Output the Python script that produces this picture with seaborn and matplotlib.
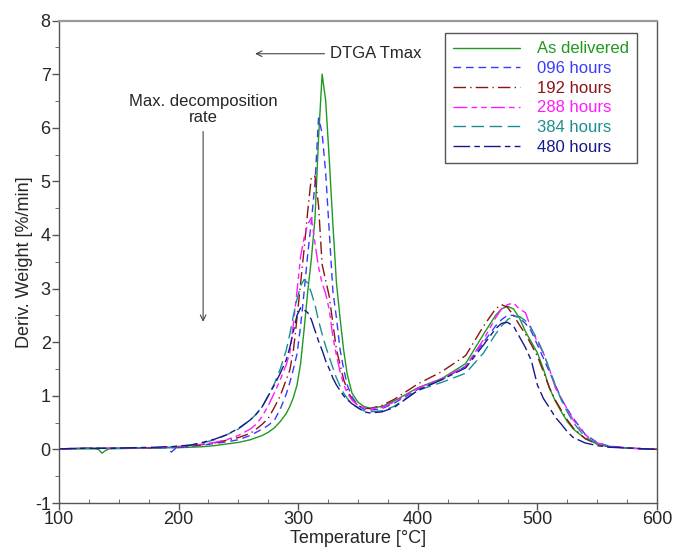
import matplotlib
matplotlib.use("Agg")
import matplotlib.pyplot as plt
from matplotlib.lines import Line2D
from matplotlib.ticker import MultipleLocator
import pandas as pd
import seaborn as sns

temps = [100, 120, 130, 133, 136, 139, 142, 160, 180, 190, 194, 198, 210, 220, 230, 240,
         250, 260, 265, 270, 275, 280, 285, 290,
         293, 296, 299, 302, 305, 308, 311, 314, 317, 320, 323, 326, 329, 332, 335, 338, 341,
         345, 350, 355, 360, 370, 380, 400, 420, 440, 455, 465, 470, 475, 480, 485, 490, 495,
         500, 505, 510, 515, 520, 525, 530, 540, 550, 560, 580, 600]

as_delivered = [0.01, 0.01, 0.01, 0.0, -0.07, -0.02, 0.01, 0.02, 0.02, 0.03, 0.03, 0.03, 0.04, 0.05, 0.07, 0.10,
                0.13, 0.18, 0.22, 0.26, 0.32, 0.40, 0.52, 0.67,
                0.80, 0.97, 1.20, 1.60, 2.25, 2.95, 3.55, 4.30, 5.80, 7.00, 6.50, 5.40, 4.20, 3.10, 2.45, 1.85, 1.40,
                1.05, 0.88, 0.80, 0.77, 0.80, 0.90, 1.15, 1.32, 1.60, 2.15, 2.50, 2.62, 2.67, 2.62, 2.45, 2.20, 2.00,
                1.80, 1.50, 1.15, 0.90, 0.70, 0.52, 0.38, 0.20, 0.10, 0.05, 0.02, 0.00]
h096 = [0.01, 0.02, 0.02, 0.02, 0.02, 0.02, 0.02, 0.02, 0.03, 0.03, -0.05, 0.03, 0.06, 0.08, 0.11, 0.14,
        0.18, 0.26, 0.32, 0.38, 0.45, 0.54, 0.75, 1.03,
        1.25, 1.50, 1.78, 2.30, 2.95, 3.65, 4.25, 4.95, 6.18, 5.90, 5.15, 4.05, 2.95, 2.45, 1.86, 1.50, 1.20,
        0.98, 0.82, 0.75, 0.73, 0.76, 0.86, 1.12, 1.30, 1.55, 2.00, 2.30, 2.42, 2.50, 2.50, 2.45, 2.35, 2.20,
        1.95, 1.70, 1.45, 1.20, 0.95, 0.75, 0.58, 0.28, 0.13, 0.06, 0.02, 0.00]
h192 = [0.01, 0.02, 0.02, 0.02, 0.02, 0.02, 0.02, 0.03, 0.03, 0.04, 0.04, 0.04, 0.06, 0.09, 0.12, 0.17,
        0.22, 0.30, 0.38, 0.47, 0.58, 0.78, 1.00, 1.30,
        1.48, 1.85, 2.45, 3.10, 3.75, 4.45, 5.08, 5.10, 4.55, 3.45, 3.15, 2.85, 2.35, 1.86, 1.58, 1.30, 1.12,
        0.93, 0.82, 0.77, 0.76, 0.82, 0.93, 1.22, 1.45, 1.75, 2.30, 2.62, 2.70, 2.65, 2.50, 2.32, 2.15, 1.95,
        1.74, 1.45, 1.15, 0.92, 0.73, 0.55, 0.40, 0.20, 0.10, 0.05, 0.02, 0.00]
h288 = [0.01, 0.02, 0.02, 0.02, 0.02, 0.02, 0.02, 0.03, 0.03, 0.04, 0.04, 0.05, 0.07, 0.10, 0.13, 0.18,
        0.26, 0.38, 0.47, 0.62, 0.82, 1.05, 1.30, 1.58,
        1.80, 2.35, 2.95, 3.60, 3.95, 4.20, 4.32, 3.85, 3.40, 3.10, 2.90, 2.60, 2.10, 1.75, 1.45, 1.22, 1.05,
        0.92, 0.82, 0.78, 0.76, 0.78, 0.88, 1.14, 1.32, 1.55, 2.05, 2.45, 2.62, 2.70, 2.73, 2.62, 2.55, 2.25,
        2.00, 1.80, 1.50, 1.15, 0.95, 0.75, 0.55, 0.27, 0.12, 0.06, 0.02, 0.00]
h384 = [0.01, 0.02, 0.02, 0.02, 0.02, 0.02, 0.02, 0.03, 0.03, 0.04, 0.04, 0.05, 0.08, 0.12, 0.18, 0.27,
        0.38, 0.55, 0.66, 0.80, 1.00, 1.22, 1.50, 1.85,
        2.15, 2.50, 2.80, 3.05, 3.17, 3.10, 2.92, 2.70, 2.40, 2.15, 1.92, 1.72, 1.52, 1.33, 1.18, 1.05, 0.95,
        0.85, 0.77, 0.72, 0.70, 0.72, 0.80, 1.10, 1.25, 1.42, 1.80, 2.15, 2.30, 2.42, 2.48, 2.48, 2.40, 2.25,
        2.05, 1.80, 1.50, 1.20, 0.92, 0.70, 0.50, 0.23, 0.11, 0.05, 0.02, 0.00]
h480 = [0.01, 0.02, 0.02, 0.02, 0.02, 0.02, 0.02, 0.03, 0.04, 0.05, 0.05, 0.06, 0.08, 0.13, 0.19, 0.27,
        0.39, 0.55, 0.66, 0.80, 1.00, 1.20, 1.42, 1.67,
        1.90, 2.20, 2.50, 2.64, 2.60, 2.55, 2.42, 2.22, 2.02, 1.85, 1.65, 1.50, 1.33, 1.20, 1.10, 1.00, 0.93,
        0.85, 0.78, 0.70, 0.68, 0.70, 0.78, 1.10, 1.30, 1.52, 1.95, 2.25, 2.35, 2.37, 2.30, 2.10, 1.90, 1.65,
        1.20, 0.95, 0.78, 0.60, 0.47, 0.33, 0.22, 0.12, 0.07, 0.04, 0.02, 0.00]

labels = ["As delivered", "096 hours", "192 hours", "288 hours", "384 hours", "480 hours"]
series = [as_delivered, h096, h192, h288, h384, h480]

COLORS = {
    "As delivered": "#1f9a1f",
    "096 hours": "#3a3aff",
    "192 hours": "#8b1414",
    "288 hours": "#ff1aff",
    "384 hours": "#1a8f8f",
    "480 hours": "#18188a",
}
DASHES = {
    "As delivered": "",
    "096 hours": (5.5, 3.5),
    "192 hours": (9, 3, 1, 3),
    "288 hours": (10, 3, 4, 3, 4, 3),
    "384 hours": (9, 4),
    "480 hours": (12, 3, 4, 3),
}

df = pd.DataFrame({
    "temp": temps * len(labels),
    "dw": [v for s in series for v in s],
    "sample": [lab for lab in labels for _ in temps],
})

sns.set_style("ticks")
plt.rcParams["font.family"] = ["Liberation Sans", "DejaVu Sans"]
plt.rcParams["axes.unicode_minus"] = False

fig = plt.figure(figsize=(6.75, 5.48), dpi=100)
ax = fig.add_axes([59 / 675, 1 - 503 / 548, 598 / 675, 482.5 / 548])

sns.lineplot(data=df, x="temp", y="dw", hue="sample", style="sample",
             hue_order=labels, style_order=labels, palette=COLORS, dashes=DASHES,
             sort=False, estimator=None, linewidth=1.0, legend=False, ax=ax)

ax.set_xlim(100, 600)
ax.set_ylim(-1, 8)
ax.xaxis.set_major_locator(MultipleLocator(100))
ax.xaxis.set_minor_locator(MultipleLocator(25))
ax.yaxis.set_major_locator(MultipleLocator(1))
ax.yaxis.set_minor_locator(MultipleLocator(0.5))
ax.tick_params(axis="both", which="major", labelsize=13, length=5, color="#555555", width=1, pad=1)
ax.tick_params(axis="x", which="minor", direction="in", length=3, color="#555555")
ax.tick_params(axis="y", which="minor", direction="out", length=3, color="#555555")
ax.set_xlabel("Temperature [°C]", fontsize=13, labelpad=1)
ax.set_ylabel("Deriv. Weight [%/min]", fontsize=13, labelpad=1)

for side in ["left", "bottom", "right"]:
    ax.spines[side].set_visible(True)
    ax.spines[side].set_color("#555555")
    ax.spines[side].set_linewidth(1.0)
ax.spines["top"].set_visible(True)
ax.spines["top"].set_color("#999999")
ax.spines["top"].set_linewidth(1.6)

# annotations
arrow = dict(arrowstyle="->", color="#444444", lw=0.8, shrinkA=0, shrinkB=0)
ax.annotate("", xy=(264, 7.38), xytext=(322, 7.38), arrowprops=arrow)
ax.text(327, 7.38, "DTGA Tmax", fontsize=12, va="center", ha="left")
ax.annotate("", xy=(220.5, 2.38), xytext=(220.5, 5.93), arrowprops=arrow)
ax.text(220.5, 6.34, "Max. decomposition\nrate", fontsize=12, va="center", ha="center",
        linespacing=1.1)

# legend
handles = []
for lab in labels:
    h = Line2D([], [], color=COLORS[lab], lw=1.0, linestyle="-")
    if DASHES[lab]:
        h.set_dashes(DASHES[lab])
    handles.append(h)
leg = ax.legend(handles, labels, loc="upper right", bbox_to_anchor=(0.9666, 0.974),
                borderaxespad=0, fontsize=12, handlelength=4.0, handletextpad=1.0,
                labelspacing=0.28, borderpad=0.5, frameon=True, fancybox=False, framealpha=1)
leg.get_frame().set_edgecolor("#555555")
leg.get_frame().set_linewidth(1.0)
for txt, lab in zip(leg.get_texts(), labels):
    txt.set_color(COLORS[lab])

fig.savefig("out.png", dpi=100)
